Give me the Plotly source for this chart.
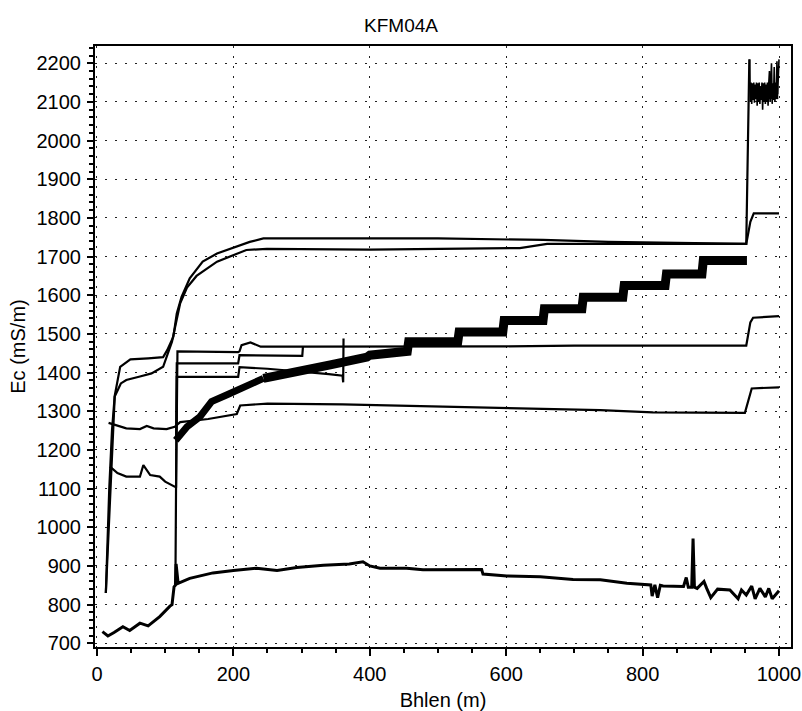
import plotly.graph_objects as go

# ---- data ----
# Upper curve A (plateau ~1437, then ~1745, jumps to ~2150 at the bottom of the hole)
a_x = [13, 18, 22, 26, 34, 49, 75, 97, 103, 112, 117, 124, 136, 155, 176, 205, 224, 244,
       400, 500, 654, 750, 952, 955, 956.5]
a_y = [830, 1100, 1250, 1340, 1415, 1434, 1437, 1440, 1458, 1493, 1553, 1596, 1644, 1687,
       1708, 1725, 1738, 1747, 1747, 1747, 1743, 1738, 1733, 2090, 2210]
# noisy tail of curve A
a_tail_x = [957, 958, 959, 960, 961, 962, 963, 964, 965, 966, 967, 968, 969, 970, 971, 972,
            973, 974, 975, 976, 977, 978, 979, 980, 981, 982, 983, 984, 985, 986, 987, 988,
            989, 990, 991, 992, 993, 994, 995, 996, 997, 998, 999, 1000]
a_tail_y = [2210, 2100, 2150, 2095, 2148, 2105, 2150, 2098, 2145, 2110, 2150, 2090, 2148,
            2100, 2150, 2095, 2140, 2105, 2150, 2080, 2148, 2100, 2150, 2095, 2145, 2100,
            2150, 2090, 2148, 2180, 2100, 2150, 2200, 2095, 2148, 2105, 2190, 2100, 2150,
            2110, 2205, 2120, 2150, 2210]
a_band_x = [958, 999]
a_band_y = [2124, 2124]

# Curve B (plateau ~1390, then ~1720, ends ~1810)
b_x = [13, 22, 26, 35, 43, 63, 80, 97, 110, 122, 132, 146, 176, 219, 249, 400, 500, 620,
       660, 952, 958, 963, 1000]
b_y = [830, 1200, 1338, 1372, 1381, 1390, 1398, 1415, 1480, 1579, 1620, 1650, 1687, 1717,
       1720, 1718, 1720, 1722, 1733, 1733, 1790, 1812, 1812]

# Curve C (~1150 at top, then ~1467, ends ~1545)
c_x = [19, 30, 43, 63, 68, 78, 92, 100, 114, 116, 118, 207, 209, 212, 225, 240, 300, 400,
       527, 600, 700, 800, 900, 952, 958, 962, 1000]
c_y = [1157, 1140, 1131, 1131, 1161, 1135, 1131, 1118, 1105, 1105, 1455, 1453, 1455, 1471,
       1478, 1467, 1467, 1467, 1467, 1468, 1470, 1470, 1470, 1470, 1530, 1542, 1546]

# Curve D (~1270 at top, then ~1310, ends ~1362)
d_x = [17, 30, 43, 63, 73, 83, 102, 114, 122, 163, 205, 210, 250, 360, 500, 650, 738, 815,
       950, 960, 1000]
d_y = [1270, 1262, 1256, 1254, 1262, 1256, 1254, 1260, 1272, 1280, 1293, 1315, 1320, 1318,
       1312, 1306, 1303, 1297, 1296, 1359, 1362]

# Short logs P and Q between ~117 m and ~360 m
p_x = [116, 117, 207, 209, 301, 302]
p_y = [1225, 1424, 1424, 1445, 1443, 1467]
q_x = [115, 117, 207, 209, 250, 300, 340, 360, 361, 361.5]
q_y = [850, 1389, 1389, 1414, 1410, 1403, 1396, 1392, 1375, 1488]

# Step-like thick log S
s1_x = [115.5, 122, 132, 151, 168, 190, 210, 224, 244]
s1_y = [1225, 1240, 1260, 1286, 1325, 1342, 1359, 1372, 1385]
s2_x = [244, 280, 342, 396, 400, 455, 457, 529, 531, 595, 597, 654, 656, 711, 713, 771,
        773, 833, 835, 887, 889, 953]
s2_y = [1385, 1400, 1420, 1440, 1445, 1455, 1480, 1480, 1505, 1505, 1535, 1535, 1565,
        1565, 1595, 1595, 1625, 1625, 1655, 1655, 1690, 1690]

# Bottom log E (~720 -> ~900 -> ~830)
e_x = [8, 16, 25, 38, 48, 63, 75, 92, 107, 110, 113, 115, 116, 119, 136, 170, 200, 234,
       264, 293, 332, 370, 390, 400, 415, 454, 478, 513, 564, 566, 601, 650, 698, 738, 777,
       812, 814, 818, 822, 826, 830, 860, 864, 867, 872, 874, 876, 880, 890, 894, 900, 910,
       920, 928, 940, 945, 952, 960, 965, 972, 980, 985, 990, 1000]
e_y = [730, 719, 728, 743, 733, 752, 745, 769, 796, 800, 846, 850, 905, 855, 868, 882, 888,
       894, 888, 896, 902, 905, 911, 900, 894, 894, 890, 890, 891, 879, 874, 872, 865, 864,
       855, 851, 822, 851, 818, 850, 848, 847, 870, 845, 845, 971, 845, 842, 860, 842, 818,
       840, 838, 838, 815, 838, 825, 848, 815, 842, 820, 842, 815, 836]

x_ticks = [0, 200, 400, 600, 800, 1000]
y_ticks = [700, 800, 900, 1000, 1100, 1200, 1300, 1400, 1500, 1600, 1700, 1800, 1900,
           2000, 2100, 2200]

# ---- figure ----
fig = go.Figure()

def add(x, y, w):
    fig.add_trace(go.Scatter(x=x, y=y, mode="lines",
                             line=dict(color="black", width=w),
                             showlegend=False, hoverinfo="skip"))

add(s2_x, s2_y, 9)
add(s1_x, s1_y, 7)
add(a_x, a_y, 2.2)
add(a_band_x, a_band_y, 13)
add(a_tail_x, a_tail_y, 1.6)
add(b_x, b_y, 2.2)
add(c_x, c_y, 2.2)
add(d_x, d_y, 2.2)
add(p_x, p_y, 2.2)
add(q_x, q_y, 2.2)
add(e_x, e_y, 3)

font_family = "Liberation Sans, Arial, sans-serif"

fig.update_layout(
    width=802, height=711,
    margin=dict(l=95, r=11, t=46, b=64, autoexpand=False),
    paper_bgcolor="white", plot_bgcolor="white",
    font=dict(family=font_family, color="black", size=20),
    title=dict(text="KFM04A", x=0.5, xref="container", xanchor="center",
               y=1 - 25 / 711, yref="container", yanchor="middle",
               font=dict(size=19, color="black", family=font_family)),
)

grid_style = dict(showgrid=True, gridcolor="#222222", gridwidth=1.3, griddash="2px,8px")

fig.update_xaxes(
    range=[-2.9, 1017.6], automargin=False,
    tickvals=x_ticks, ticktext=[str(v) for v in x_ticks],
    ticks="outside", ticklen=7, tickwidth=2, tickcolor="black",
    ticklabelstandoff=1,
    minor=dict(dtick=50, tick0=0, ticks="outside", ticklen=4, tickwidth=1.5,
               tickcolor="black", showgrid=False),
    showline=True, linecolor="black", linewidth=2, mirror=True,
    zeroline=False,
    tickfont=dict(size=20, color="black"),
    title=dict(text="Bhlen (m)", font=dict(size=20, color="black"), standoff=14),
    **grid_style,
)
fig.update_yaxes(
    range=[690.4, 2244.6], automargin=False,
    tickvals=y_ticks, ticktext=[str(v) for v in y_ticks],
    ticks="outside", ticklen=6, tickwidth=2, tickcolor="black",
    ticklabelstandoff=2,
    minor=dict(dtick=20, tick0=700, ticks="outside", ticklen=4, tickwidth=1.5,
               tickcolor="black", showgrid=False),
    showline=True, linecolor="black", linewidth=2, mirror=True,
    zeroline=False,
    tickfont=dict(size=20, color="black"),
    title=dict(text="Ec (mS/m)", font=dict(size=20, color="black"), standoff=6),
    **grid_style,
)

fig.write_html("out.html")
